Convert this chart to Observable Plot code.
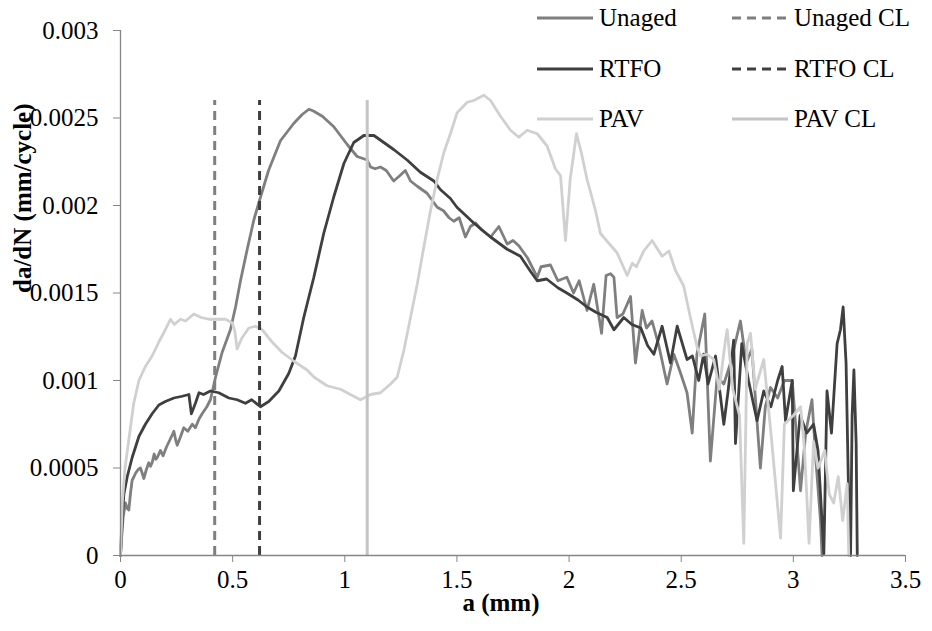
<!DOCTYPE html>
<html>
<head>
<meta charset="utf-8">
<script src="https://cdn.jsdelivr.net/npm/d3@7"></script>
<script src="https://cdn.jsdelivr.net/npm/@observablehq/plot@0.6"></script>
<style>
  html, body { margin: 0; padding: 0; background: #fff; }
  #wrap { position: relative; width: 932px; height: 631px; }
  .leg { position: absolute; display: flex; align-items: center; font-family: "Liberation Serif", "Times New Roman", Times, "Noto Serif", "DejaVu Serif", Tinos, serif; font-size: 25px; color: #000; white-space: nowrap; }
  .leg svg { margin-right: 6px; }
</style>
</head>
<body>
<div id="wrap"></div>
<script>
// ---- data ----
const xTicks = [0, 0.5, 1, 1.5, 2, 2.5, 3, 3.5];
const yTicks = [0, 0.0005, 0.001, 0.0015, 0.002, 0.0025, 0.003];
const xLabel = "a (mm)";
const yLabel = "da/dN (mm/cycle)";

const seriesNames = ["Unaged", "RTFO", "PAV"];
const clNames = ["Unaged CL", "RTFO CL", "PAV CL"];
const clPositions = [0.42, 0.62, 1.1];
const clTop = 0.0026;

const unaged = [
[0.0,0.0],[0.005,0.0001],[0.012,0.00022],[0.022,0.0003],[0.03,0.00027],[0.037,0.00026],[0.045,0.00036],
[0.052,0.00043],[0.06,0.00045],[0.067,0.00047],[0.078,0.00049],[0.089,0.0005],[0.097,0.00047],[0.104,0.00044],
[0.115,0.00049],[0.126,0.00053],[0.134,0.00051],[0.141,0.00053],[0.15,0.00058],[0.157,0.00055],[0.164,0.00056],
[0.178,0.0006],[0.19,0.00057],[0.205,0.00062],[0.22,0.00066],[0.238,0.00071],[0.246,0.00066],[0.253,0.00063],
[0.268,0.00068],[0.282,0.00073],[0.3,0.00071],[0.32,0.00075],[0.334,0.00073],[0.35,0.00078],[0.364,0.00081],
[0.385,0.00085],[0.401,0.00089],[0.424,0.00102],[0.453,0.00116],[0.49,0.00129],[0.513,0.00142],[0.535,0.00157],
[0.565,0.00175],[0.595,0.00192],[0.62,0.00203],[0.66,0.0022],[0.713,0.00237],[0.773,0.00247],[0.81,0.00252],
[0.84,0.00255],[0.86,0.00254],[0.9,0.00251],[0.951,0.00245],[1.01,0.00235],[1.055,0.00228],[1.1,0.00226],
[1.115,0.00222],[1.135,0.00221],[1.159,0.00222],[1.185,0.0022],[1.218,0.00214],[1.245,0.00217],[1.27,0.0022],
[1.293,0.00214],[1.323,0.00211],[1.367,0.00207],[1.412,0.00199],[1.44,0.00197],[1.465,0.00193],[1.486,0.00191],
[1.51,0.00193],[1.538,0.00182],[1.56,0.00188],[1.583,0.0019],[1.61,0.00186],[1.65,0.00182],[1.687,0.00188],
[1.724,0.00178],[1.75,0.0018],[1.776,0.00177],[1.815,0.0017],[1.858,0.00159],[1.875,0.00165],[1.917,0.00166],
[1.95,0.00157],[1.99,0.00159],[2.02,0.0015],[2.045,0.00157],[2.08,0.0014],[2.11,0.00155],[2.145,0.00127],
[2.165,0.0016],[2.185,0.00161],[2.2,0.00159],[2.214,0.00136],[2.24,0.00138],[2.274,0.00148],[2.296,0.0011],
[2.326,0.0014],[2.345,0.0013],[2.37,0.00134],[2.4,0.0012],[2.437,0.00098],[2.467,0.00115],[2.495,0.00105],
[2.526,0.00093],[2.549,0.0007],[2.57,0.00115],[2.605,0.00138],[2.63,0.00054],[2.66,0.00102],[2.69,0.00098],
[2.72,0.0011],[2.764,0.00134],[2.79,0.0011],[2.815,0.00118],[2.853,0.0005],[2.875,0.00085],[2.898,0.00096],
[2.93,0.0009],[2.96,0.001],[2.995,0.001],[3.01,0.00075],[3.032,0.00037],[3.055,0.0007],[3.083,0.00089],
[3.1,0.00055],[3.121,0.0002],[3.128,0.0]
];

const rtfo = [
[0.0,0.0],[0.008,0.00022],[0.015,0.00035],[0.03,0.00045],[0.052,0.00056],[0.082,0.00068],[0.111,0.00075],
[0.141,0.00081],[0.171,0.00086],[0.2,0.00088],[0.238,0.0009],[0.275,0.00091],[0.305,0.00092],[0.316,0.00081],
[0.334,0.00087],[0.35,0.00093],[0.37,0.00092],[0.401,0.00094],[0.438,0.00093],[0.483,0.0009],[0.52,0.00089],
[0.557,0.00087],[0.585,0.00089],[0.624,0.00085],[0.661,0.00088],[0.706,0.00094],[0.75,0.00104],[0.78,0.00114],
[0.817,0.00136],[0.862,0.00159],[0.906,0.00184],[0.951,0.00205],[0.996,0.00224],[1.04,0.00236],[1.085,0.0024],
[1.13,0.0024],[1.174,0.00236],[1.218,0.00232],[1.278,0.00226],[1.337,0.00219],[1.397,0.00214],[1.427,0.00209],
[1.471,0.00204],[1.5,0.00199],[1.575,0.0019],[1.65,0.00182],[1.724,0.00175],[1.783,0.00171],[1.83,0.00162],
[1.858,0.00157],[1.9,0.00158],[1.95,0.00153],[1.99,0.0015],[2.04,0.00146],[2.08,0.00142],[2.12,0.00139],
[2.17,0.00136],[2.2,0.00129],[2.244,0.00136],[2.28,0.00132],[2.32,0.0013],[2.35,0.0012],[2.378,0.00115],
[2.415,0.00131],[2.452,0.0011],[2.482,0.00131],[2.526,0.00112],[2.55,0.00114],[2.578,0.001],[2.6,0.00115],
[2.62,0.00098],[2.653,0.00114],[2.69,0.00075],[2.71,0.00095],[2.734,0.00123],[2.742,0.00064],[2.77,0.00121],
[2.8,0.001],[2.838,0.00077],[2.868,0.00094],[2.9,0.00085],[2.93,0.001],[2.95,0.00108],[2.965,0.00077],
[2.995,0.001],[3.0,0.00037],[3.03,0.0008],[3.06,0.0007],[3.09,0.00075],[3.11,0.0006],[3.136,0.00001],
[3.15,0.00094],[3.17,0.0007],[3.195,0.00121],[3.21,0.00129],[3.222,0.00142],[3.235,0.0011],[3.247,0.0003],
[3.255,0.0],[3.262,0.0008],[3.27,0.00106],[3.28,0.00064],[3.285,0.0]
];

const pav = [
[0.0,0.0],[0.008,0.0003],[0.02,0.0005],[0.037,0.00066],[0.059,0.00087],[0.082,0.001],[0.111,0.00108],
[0.141,0.00114],[0.171,0.00122],[0.2,0.00129],[0.223,0.00135],[0.24,0.00132],[0.267,0.00135],[0.29,0.00134],
[0.327,0.00138],[0.36,0.00136],[0.394,0.00135],[0.424,0.00135],[0.468,0.00135],[0.498,0.00133],[0.51,0.00128],
[0.52,0.00118],[0.54,0.00124],[0.572,0.0013],[0.602,0.00131],[0.632,0.00129],[0.676,0.00122],[0.721,0.00116],
[0.773,0.00111],[0.832,0.00106],[0.862,0.00102],[0.921,0.00097],[0.981,0.00095],[1.025,0.00092],[1.07,0.00089],
[1.115,0.00092],[1.159,0.00093],[1.204,0.00098],[1.234,0.00102],[1.263,0.00117],[1.293,0.00136],[1.323,0.00155],
[1.352,0.00176],[1.382,0.00197],[1.412,0.00215],[1.441,0.0023],[1.471,0.00241],[1.501,0.00253],[1.546,0.00259],
[1.575,0.0026],[1.62,0.00263],[1.65,0.0026],[1.694,0.00251],[1.739,0.00243],[1.776,0.00239],[1.813,0.00243],
[1.858,0.00241],[1.902,0.00234],[1.939,0.00221],[1.962,0.00217],[1.984,0.0018],[2.005,0.00215],[2.033,0.00241],
[2.055,0.0023],[2.08,0.00215],[2.118,0.00197],[2.14,0.00184],[2.18,0.00178],[2.214,0.00173],[2.259,0.0016],
[2.282,0.00167],[2.3,0.00165],[2.333,0.00174],[2.37,0.0018],[2.415,0.00171],[2.445,0.00174],[2.474,0.00163],
[2.511,0.00154],[2.541,0.00136],[2.571,0.00119],[2.586,0.00114],[2.615,0.00115],[2.645,0.00112],[2.67,0.00095],
[2.697,0.00123],[2.705,0.00129],[2.73,0.00095],[2.76,0.0008],[2.779,0.00007],[2.794,0.00121],[2.809,0.00127],
[2.83,0.00095],[2.868,0.00112],[2.9,0.0007],[2.943,0.0001],[2.96,0.00075],[3.0,0.0008],[3.032,0.00085],
[3.05,0.0006],[3.07,0.00007],[3.09,0.00065],[3.11,0.0005],[3.14,0.0006],[3.16,0.00035],[3.18,0.0003],
[3.2,0.00045],[3.22,0.0002],[3.24,0.00041],[3.247,0.0]
];

// ---- styles ----
const colors = {Unaged: "#7f7f7f", RTFO: "#3f3f3f", PAV: "#d0d0d0"};
const clColors = {"Unaged CL": "#7f7f7f", "RTFO CL": "#3f3f3f", "PAV CL": "#c4c4c4"};
const clDash = {"Unaged CL": "9,6", "RTFO CL": "9,6", "PAV CL": null};
const axisColor = "#868686";
const font = "'Liberation Serif', 'Times New Roman', Times, 'Noto Serif', 'DejaVu Serif', Tinos, serif";

const seriesData = {Unaged: unaged, RTFO: rtfo, PAV: pav};

const marks = [];
for (const name of seriesNames) {
  marks.push(Plot.line(seriesData[name], {x: d => d[0], y: d => d[1], stroke: colors[name], strokeWidth: 2.8, strokeLinejoin: "round"}));
}
clNames.forEach((name, i) => {
  marks.push(Plot.ruleX([clPositions[i]], {y1: 0, y2: clTop, stroke: clColors[name], strokeWidth: 3, strokeDasharray: clDash[name] || undefined}));
});
marks.push(
  Plot.ruleY([0], {stroke: axisColor, strokeWidth: 1.3}),
  Plot.ruleX([0], {stroke: axisColor, strokeWidth: 1.3}),
  Plot.axisX({ticks: xTicks, tickFormat: d => String(d), tickSize: 7, tickPadding: 8, stroke: axisColor, fill: "#000", label: null}),
  Plot.axisY({ticks: yTicks, tickFormat: d => String(d), tickSize: 7, tickPadding: 15, stroke: axisColor, fill: "#000", label: null}),
  Plot.text([yLabel], {frameAnchor: "left", dx: -98, rotate: -90, fontWeight: "bold", fontSize: 25, fill: "#000"}),
  Plot.text([xLabel], {frameAnchor: "bottom", dy: 55, dx: -12, fontWeight: "bold", fontSize: 25, fill: "#000"})
);

const chart = Plot.plot({
  width: 932,
  height: 631,
  marginLeft: 120,
  marginRight: 27,
  marginTop: 30,
  marginBottom: 76,
  x: {domain: [0, 3.5]},
  y: {domain: [0, 0.003]},
  style: {fontFamily: font, fontSize: "25px", background: "#fff", color: "#000"},
  marks
});

const wrap = document.getElementById("wrap");
wrap.appendChild(chart);

// ---- legend (two columns, three rows) ----
const legendItems = [
  {label: "Unaged", color: colors.Unaged, dash: null, col: 0, row: 0},
  {label: "Unaged CL", color: clColors["Unaged CL"], dash: clDash["Unaged CL"], col: 1, row: 0},
  {label: "RTFO", color: colors.RTFO, dash: null, col: 0, row: 1},
  {label: "RTFO CL", color: clColors["RTFO CL"], dash: clDash["RTFO CL"], col: 1, row: 1},
  {label: "PAV", color: colors.PAV, dash: null, col: 0, row: 2},
  {label: "PAV CL", color: clColors["PAV CL"], dash: clDash["PAV CL"], col: 1, row: 2}
];
const colLeft = [537, 732];
const rowTop = [2, 53, 103];
for (const it of legendItems) {
  const div = document.createElement("div");
  div.className = "leg";
  div.style.left = colLeft[it.col] + "px";
  div.style.top = rowTop[it.row] + "px";
  div.style.height = "32px";
  div.innerHTML = `<svg width="56" height="10"><line x1="0" x2="56" y1="5" y2="5" stroke="${it.color}" stroke-width="3" ${it.dash ? `stroke-dasharray="${it.dash}"` : ""}/></svg><span>${it.label}</span>`;
  wrap.appendChild(div);
}
</script>
</body>
</html>
